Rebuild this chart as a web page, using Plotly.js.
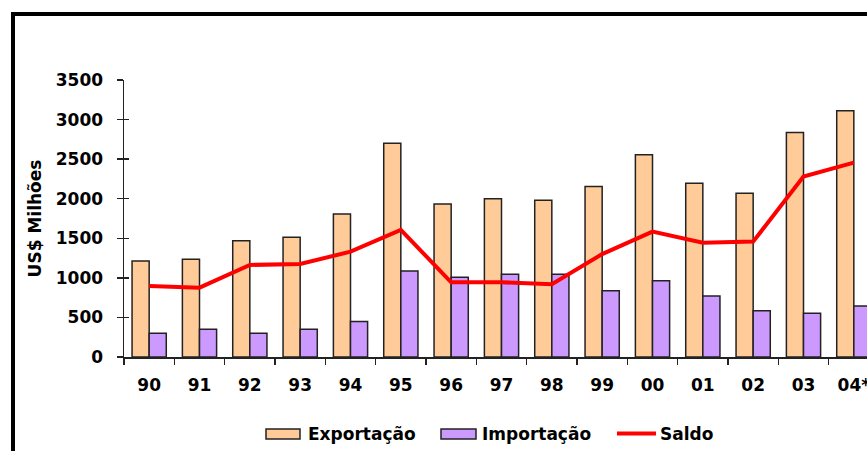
<!DOCTYPE html>
<html>
<head>
<meta charset="utf-8">
<script src="https://cdn.plot.ly/plotly-3.0.1.min.js"></script>
<style>
html,body{margin:0;padding:0;background:#fff;overflow:hidden;width:867px;height:451px;}
#chart{position:absolute;left:0;top:0;width:900px;height:451px;}
#frame{position:absolute;left:11px;top:12px;width:1000px;height:600px;border-left:4px solid #000;border-top:4px solid #000;pointer-events:none;}
</style>
</head>
<body>
<div id="chart"></div>
<div id="frame"></div>
<script>
const categories = ["90","91","92","93","94","95","96","97","98","99","00","01","02","03","04*"];
const exportacao = [1213, 1235, 1470, 1513, 1808, 2701, 1934, 2001, 1981, 2153, 2554, 2195, 2069, 2836, 3110];
const importacao = [300, 350, 300, 350, 447, 1087, 1007, 1045, 1045, 838, 965, 771, 585, 552, 645];
const saldo = [897, 876, 1163, 1176, 1331, 1606, 944, 944, 919, 1300, 1584, 1445, 1458, 2280, 2456];
const yTicks = [0, 500, 1000, 1500, 2000, 2500, 3000, 3500];
const seriesNames = ["Exportação", "Importação", "Saldo"];

const FAM = "DejaVu Sans, Verdana, sans-serif";
const tf = (s) => ({family: FAM, size: s, color: "#000", weight: "bold"});

const traces = [
  {type: "bar", name: seriesNames[0], x: categories, y: exportacao,
   marker: {color: "#FFCC99", line: {color: "#222", width: 1.5}}},
  {type: "bar", name: seriesNames[1], x: categories, y: importacao,
   marker: {color: "#CC99FF", line: {color: "#222", width: 1.5}}},
  {type: "scatter", mode: "lines", name: seriesNames[2], x: categories, y: saldo,
   line: {color: "#FF0000", width: 4}},
  {type: "scatter", mode: "lines", x: categories, y: saldo, yaxis: "y2",
   showlegend: false, hoverinfo: "skip", line: {width: 0}, opacity: 0}
];

// plot area in pixels: left 124, right 879, top 80, bottom 357
const L = 124, R = 879, T = 80, B = 357;
const px = (x) => (x - L) / (R - L);
const py = (y) => (B - y) / (B - T);

const shapes = [
  {type: "rect", xref: "paper", yref: "paper", x0: px(266), x1: px(300), y0: py(439), y1: py(429),
   fillcolor: "#FFCC99", line: {color: "#222", width: 1.5}},
  {type: "rect", xref: "paper", yref: "paper", x0: px(441), x1: px(476), y0: py(439), y1: py(429),
   fillcolor: "#CC99FF", line: {color: "#222", width: 1.5}},
  {type: "line", xref: "paper", yref: "paper", x0: px(617), x1: px(656), y0: py(433.5), y1: py(433.5),
   line: {color: "#FF0000", width: 4}}
];
const annotations = [
  {text: seriesNames[0], x: px(306), y: py(434), xanchor: "left", yanchor: "middle"},
  {text: seriesNames[1], x: px(480), y: py(434), xanchor: "left", yanchor: "middle"},
  {text: seriesNames[2], x: px(658), y: py(434), xanchor: "left", yanchor: "middle"}
].map(a => Object.assign(a, {xref: "paper", yref: "paper", showarrow: false, font: tf(17)}));

const layout = {
  width: 900, height: 451,
  margin: {l: L, r: 900 - R, t: T, b: 451 - B, autoexpand: false},
  paper_bgcolor: "#fff", plot_bgcolor: "#fff",
  barmode: "group", bargap: 0.32, bargroupgap: 0,
  font: tf(17),
  showlegend: false,
  shapes: shapes,
  annotations: annotations,
  xaxis: {type: "category", range: [-0.5, 14.5], showgrid: false, zeroline: false,
          showline: true, linecolor: "#222", linewidth: 1.5,
          ticks: "outside", tickson: "boundaries", ticklen: 6, tickwidth: 1.5, tickcolor: "#222",
          ticklabelstandoff: 12, tickfont: tf(17)},
  yaxis: {range: [0, 3500], tickvals: yTicks, showgrid: false, zeroline: false,
          showline: true, linecolor: "#222", linewidth: 1.5,
          ticks: "outside", ticklen: 6, tickwidth: 1.5, tickcolor: "#222",
          ticklabelstandoff: 10, tickfont: tf(17),
          title: {text: "US$ Milhões", standoff: 10, font: tf(17)}},
  yaxis2: {overlaying: "y", range: [0, 3500], tickvals: yTicks, showticklabels: false,
           showgrid: false, zeroline: false, showline: false,
           ticks: "inside", ticklen: 5, tickwidth: 1.5, tickcolor: "#222", side: "left"}
};

Plotly.newPlot("chart", traces, layout, {displayModeBar: false, staticPlot: true});
</script>
</body>
</html>
